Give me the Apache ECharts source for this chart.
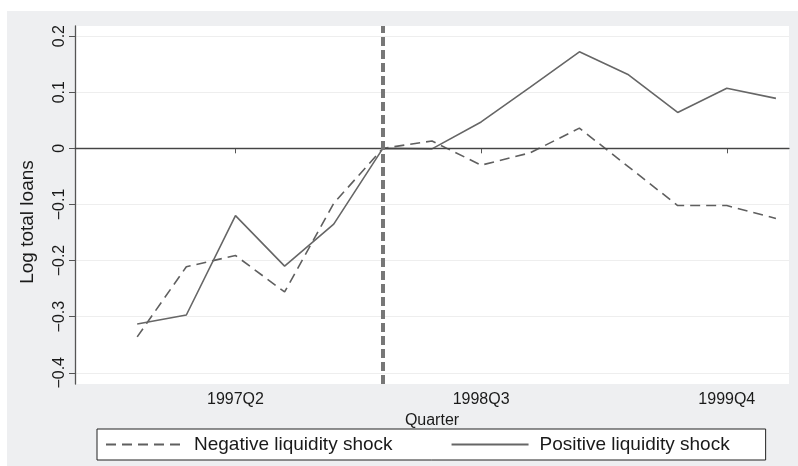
<!DOCTYPE html>
<html>
<head>
<meta charset="utf-8">
<script src="https://cdn.jsdelivr.net/npm/echarts@6/dist/echarts.min.js"></script>
<style>
html,body{margin:0;padding:0;background:#fff;}
#chart{width:798px;height:466px;}
</style>
</head>
<body>
<div id="chart"></div>
<script>
// ---- data ----
const quarters = ["1996Q4","1997Q1","1997Q2","1997Q3","1997Q4","1998Q1","1998Q2","1998Q3","1998Q4","1999Q1","1999Q2","1999Q3","1999Q4","2000Q1"];
const negativeShock = [-0.336, -0.211, -0.191, -0.256, -0.098, 0, 0.013, -0.030, -0.008, 0.036, -0.033, -0.102, -0.102, -0.125];
const positiveShock = [-0.313, -0.297, -0.120, -0.210, -0.135, 0, -0.001, 0.047, 0.109, 0.172, 0.131, 0.064, 0.107, 0.089];
const xTickLabels = ["1997Q2","1998Q3","1999Q4"];
const yTickValues = [-0.4, -0.3, -0.2, -0.1, 0, 0.1, 0.2];
const shockQuarter = "1998Q1";
const seriesNames = ["Negative liquidity shock", "Positive liquidity shock"];

// quarter label -> quarter count since 1996Q1
function qIndex(s){ return (parseInt(s.slice(0,4),10)-1996)*4 + parseInt(s.slice(5),10)-1; }
function qLabel(v){ const y = 1996 + Math.floor(v/4); const q = v - (y-1996)*4 + 1; return y + "Q" + q; }

const FONT = "'Liberation Sans', Arial, sans-serif";
const TXT = '#1a1a1a';

const chart = echarts.init(document.getElementById('chart'), null, {renderer:'canvas'});
chart.setOption({
  backgroundColor: '#ffffff',
  animation: false,
  graphic: [{
    type: 'rect', z: -10, silent: true,
    shape: {x: 7, y: 11, width: 791, height: 455},
    style: {fill: '#eeeff1'}
  }],
  grid: {left: 75, right: 9, top: 26, bottom: 82, show: true, backgroundColor: '#ffffff', borderWidth: 0},
  legend: {
    left: 97, top: 429,
    data: seriesNames,
    itemWidth: 77, itemHeight: 19, itemGap: 58,
    padding: [6, 36, 6, 8],
    backgroundColor: '#ffffff', borderColor: '#222', borderWidth: 1,
    itemStyle: {opacity: 0},
    textStyle: {fontFamily: FONT, fontSize: 19, color: TXT, padding: [0,0,0,6]}
  },
  xAxis: {
    type: 'value',
    min: 1.734, max: 16.266,
    name: 'Quarter', nameLocation: 'middle', nameGap: 25,
    nameTextStyle: {fontFamily: FONT, fontSize: 16, color: TXT},
    axisLine: {show: true, lineStyle: {color: '#555', width: 1.3}},
    axisTick: {show: true, length: 5, lineStyle: {color: '#555'}, customValues: xTickLabels.map(qIndex)},
    axisLabel: {fontFamily: FONT, fontSize: 16, color: TXT, margin: 8,
      customValues: xTickLabels.map(qIndex), formatter: v => qLabel(v)},
    splitLine: {show: false}
  },
  yAxis: {
    type: 'value',
    min: -0.42, max: 0.218,
    name: 'Log total loans', nameLocation: 'middle', nameGap: 38, nameRotate: 90,
    nameTextStyle: {fontFamily: FONT, fontSize: 19, color: TXT, padding: [0, 34, 0, 0]},
    axisLine: {show: true, lineStyle: {color: '#555', width: 1.3}},
    axisTick: {show: true, length: 6, lineStyle: {color: '#555'}, customValues: yTickValues},
    axisLabel: {fontFamily: FONT, fontSize: 16, color: TXT, margin: 7, rotate: 90,
      customValues: yTickValues,
      formatter: v => (v === 0 ? '0' : (v < 0 ? '\u2212' + Math.abs(v).toFixed(1) : v.toFixed(1)))},
    splitLine: {show: true, lineStyle: {color: '#eeeeee', width: 1}}
  },
  series: [
    {
      name: seriesNames[0], type: 'line', symbol: 'none', silent: true,
      data: quarters.map((q,i) => [qIndex(q), negativeShock[i]]),
      lineStyle: {color: '#5f5f5f', width: 1.6, type: [10, 6]},
      itemStyle: {color: '#5f5f5f'},
      z: 3,
      markLine: {
        silent: true, symbol: 'none', label: {show: false},
        data: [
          {yAxis: 0, lineStyle: {color: '#444', width: 1.2, type: 'solid'}},
          {xAxis: qIndex(shockQuarter), lineStyle: {color: '#777', width: 4, type: [9, 4]}}
        ]
      }
    },
    {
      name: seriesNames[1], type: 'line', symbol: 'none', silent: true,
      data: quarters.map((q,i) => [qIndex(q), positiveShock[i]]),
      lineStyle: {color: '#666666', width: 1.6, type: 'solid'},
      itemStyle: {color: '#666666'},
      z: 3
    }
  ]
});
</script>
</body>
</html>
